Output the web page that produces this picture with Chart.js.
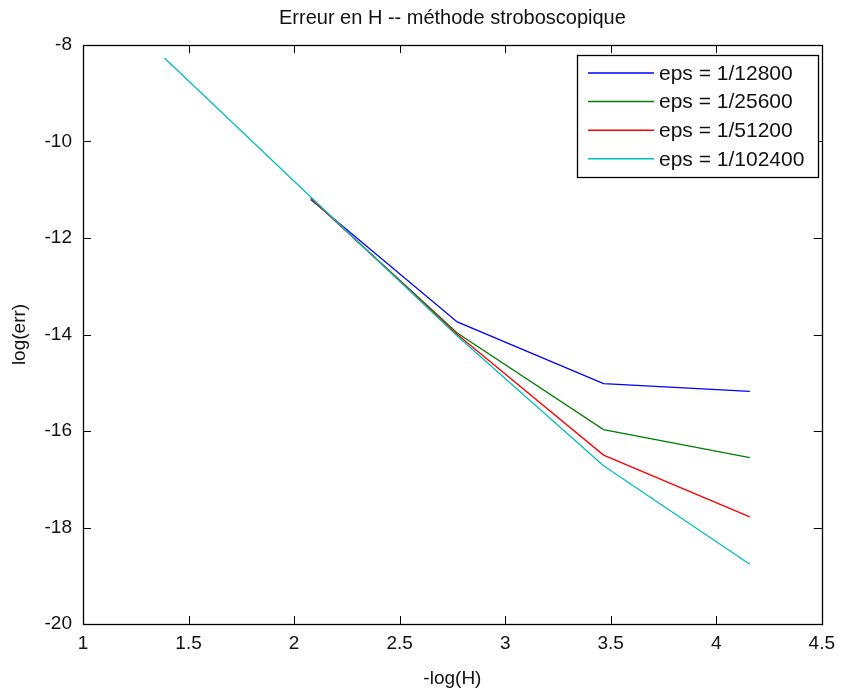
<!DOCTYPE html>
<html>
<head>
<meta charset="utf-8">
<script src="https://cdn.jsdelivr.net/npm/chart.js@4/dist/chart.umd.min.js"></script>
<style>
  html, body { margin: 0; padding: 0; background: #fff; }
  #wrap { width: 843px; height: 693px; }
</style>
</head>
<body>
<div id="wrap"><canvas id="c" width="843" height="693"></canvas></div>
<script>
// ---- data ----
const xValues = [1.386, 2.079, 2.773, 3.466, 4.159];           // -log(H)
const seriesLabels = ['eps = 1/12800', 'eps = 1/25600', 'eps = 1/51200', 'eps = 1/102400'];
const err12800  = [null, -11.20, -13.74, -15.02, -15.18];
const err25600  = [null, -11.18, -13.97, -15.97, -16.55];
const err51200  = [null, -11.17, -14.00, -16.50, -17.78];
const err102400 = [-8.27, -11.15, -14.03, -16.72, -18.76];
const xTicks = [1, 1.5, 2, 2.5, 3, 3.5, 4, 4.5];
const yTicks = [-20, -18, -16, -14, -12, -10, -8];
const seriesColors = ['#0000ff', '#008000', '#ff0000', '#00bfbf'];

const allSeries = [err12800, err25600, err51200, err102400];
const FONT = '"Liberation Sans", Arial, Helvetica, sans-serif';

const datasets = allSeries.map((vals, i) => ({
  label: seriesLabels[i],
  data: xValues.map((x, k) => ({ x: x, y: vals[k] })),
  borderColor: seriesColors[i],
  backgroundColor: seriesColors[i],
  borderWidth: 1.3,
  pointRadius: 0,
  fill: false,
  tension: 0,
  spanGaps: false,
  order: allSeries.length - i
}));

const boxPlugin = {
  id: 'matlabBox',
  afterDatasetsDraw(chart) {
    const ctx = chart.ctx;
    const a = chart.chartArea;
    const xs = chart.scales.x, ys = chart.scales.y;
    const L = 8;
    ctx.save();
    ctx.strokeStyle = '#000';
    ctx.lineWidth = 1;
    ctx.beginPath();
    xs.ticks.forEach(t => {
      const px = Math.round(xs.getPixelForValue(t.value)) + 0.5;
      ctx.moveTo(px, a.bottom); ctx.lineTo(px, a.bottom - L);
      ctx.moveTo(px, a.top); ctx.lineTo(px, a.top + L);
    });
    ys.ticks.forEach(t => {
      const py = Math.round(ys.getPixelForValue(t.value)) + 0.5;
      ctx.moveTo(a.left, py); ctx.lineTo(a.left + L, py);
      ctx.moveTo(a.right, py); ctx.lineTo(a.right - L, py);
    });
    ctx.stroke();
    ctx.lineWidth = 1.3;
    ctx.strokeRect(Math.round(a.left) + 0.5, Math.round(a.top) + 0.5,
                   Math.round(a.right - a.left), Math.round(a.bottom - a.top));
    // legend box (inside, upper right)
    const bx = 577, by = 55, bw = 241, bh = 122;
    ctx.fillStyle = '#fff';
    ctx.fillRect(bx, by, bw, bh);
    ctx.strokeStyle = '#000';
    ctx.lineWidth = 1.3;
    ctx.strokeRect(bx + 0.5, by + 0.5, bw, bh);
    ctx.font = '21px ' + FONT;
    ctx.textBaseline = 'middle';
    ctx.textAlign = 'left';
    chart.data.datasets.forEach((ds, i) => {
      const yy = 73 + i * 28.6;
      ctx.strokeStyle = ds.borderColor;
      ctx.lineWidth = 1.5;
      ctx.beginPath();
      ctx.moveTo(588, yy); ctx.lineTo(654, yy);
      ctx.stroke();
      ctx.fillStyle = '#111';
      ctx.fillText(ds.label, 659, yy + 1);
    });
    ctx.restore();
  }
};

new Chart(document.getElementById('c'), {
  type: 'line',
  data: { datasets: datasets },
  plugins: [boxPlugin],
  options: {
    responsive: false,
    animation: false,
    devicePixelRatio: 1,
    layout: { padding: { left: 0, right: 19, top: 0, bottom: 0 } },
    plugins: {
      legend: { display: false },
      tooltip: { enabled: false },
      title: {
        display: true,
        fullSize: false,
        text: 'Erreur en H -- méthode stroboscopique',
        color: '#111',
        font: { family: FONT, size: 20, weight: 'normal', lineHeight: 1.2 },
        padding: { top: 6, bottom: 15 }
      }
    },
    scales: {
      x: {
        type: 'linear',
        min: 1, max: 4.5,
        afterBuildTicks(scale) { scale.ticks = xTicks.map(v => ({ value: v })); },
        afterFit(scale) { scale.height = 69; },
        grid: { display: false, drawTicks: false, tickLength: 0 },
        border: { display: false },
        ticks: { color: '#111', font: { family: FONT, size: 19 }, padding: 8, maxRotation: 0,
                 callback: v => String(v) },
        title: { display: true, text: '-log(H)', color: '#111',
                 font: { family: FONT, size: 19 }, padding: { top: 0, bottom: 3 } }
      },
      y: {
        type: 'linear',
        min: -20, max: -8,
        afterBuildTicks(scale) { scale.ticks = yTicks.map(v => ({ value: v })); },
        afterFit(scale) { scale.width = 83; },
        grid: { display: false, drawTicks: false, tickLength: 0 },
        border: { display: false },
        ticks: { color: '#111', font: { family: FONT, size: 19 }, padding: 11,
                 callback: v => String(v) },
        title: { display: true, text: 'log(err)', color: '#111',
                 font: { family: FONT, size: 19 }, padding: { top: 8, bottom: 0 } }
      }
    }
  }
});
</script>
</body>
</html>
